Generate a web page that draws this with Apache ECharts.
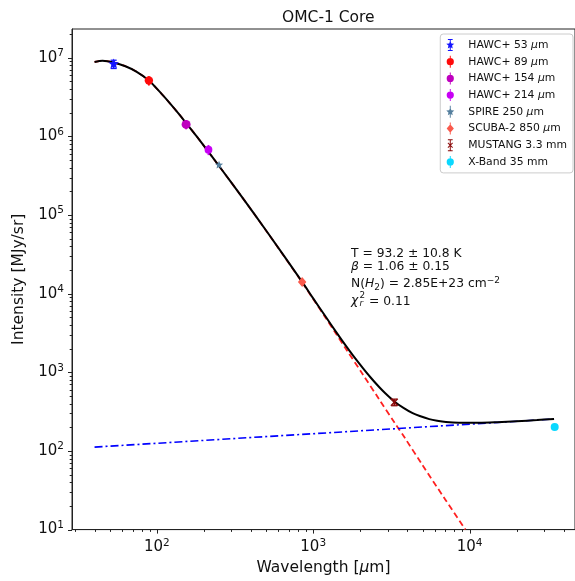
<!DOCTYPE html>
<html>
<head>
<meta charset="utf-8">
<script src="https://cdn.jsdelivr.net/npm/echarts@6/dist/echarts.min.js"></script>
<style>
  html, body { margin: 0; padding: 0; background: #ffffff; }
  #chart { width: 575px; height: 581px; }
</style>
</head>
<body>
<div id="chart"></div>
<script>
// ---- Observed bands: name, wavelength [um], intensity [MJy/sr], 1-sigma error ----
const bandNames = ['HAWC+ 53 μm', 'HAWC+ 89 μm', 'HAWC+ 154 μm', 'HAWC+ 214 μm',
                   'SPIRE 250 μm', 'SCUBA-2 850 μm', 'MUSTANG 3.3 mm', 'X-Band 35 mm'];
const bandWavelength = [53, 89, 154, 214, 250, 850, 3300, 35000];
const bandIntensity  = [8.3e6, 5.13e6, 1.42e6, 6.78e5, 4.33e5, 1.41e4, 416, 202];
const bandError      = [1.0e6, 0.7e6, 0.19e6, 1.0e5, 0.2e5, 0.1e4, 40, 8];

// ---- Fitted SED: total model (dust + free-free) ----
const fitWavelength = [40, 45, 53, 63, 74, 89, 105, 121, 137, 154, 180, 214, 250, 350, 500, 850,
                       1000, 1200, 1400, 1624, 1800, 2073, 2300, 2649, 2900, 3300, 3800, 4324,
                       4800, 5524, 6200, 7060, 8500, 11510, 15000, 20000, 27000, 34670];
const fitIntensity  = [8.85e6, 9.15e6, 8.7e6, 7.8e6, 6.67e6, 5.15e6, 3.65e6, 2.65e6, 1.98e6, 1.48e6,
                       1.0e6, 6.35e5, 4.2e5, 1.7e5, 6.35e4, 1.41e4,
                       8700, 5120, 3270, 2150, 1630, 1140, 885, 645, 538, 426, 350, 302,
                       278, 254, 242, 233, 228, 228, 232, 239, 247, 255];

// ---- Dust (modified blackbody) component ----
const dustWavelength = [40, 45, 53, 63, 74, 89, 105, 121, 137, 154, 180, 214, 250, 350, 500, 850,
                        1000, 1200, 1400, 1624, 2073, 2649, 3300, 3824, 5000, 7000, 9400];
const dustIntensity  = [8.85e6, 9.15e6, 8.7e6, 7.8e6, 6.67e6, 5.15e6, 3.65e6, 2.65e6, 1.98e6, 1.48e6,
                        1.0e6, 6.35e5, 4.2e5, 1.7e5, 6.33e4, 1.395e4,
                        8540, 4950, 3090, 1970, 944, 450, 232, 150, 66, 24, 10];

// ---- Free-free power law ----
const ffWavelength = [40, 34670];
const ffIntensity  = [112, 255];

// ---- Axis ranges and tick values ----
const X_MIN = 28.7, X_MAX = 47200, Y_MIN = 10, Y_MAX = 2.32e7;
const xMajorTicks = [100, 1000, 10000];
const yMajorTicks = [10, 100, 1e3, 1e4, 1e5, 1e6, 1e7];

// ---- Styles ----
const FONT = 'DejaVu Sans';
const INK = '#111111';
const bandColors  = ['#1414ff', '#ff0a0a', '#bf00bf', '#c800f5', '#557f9e', '#fa5a4c', '#8b0a0a', '#0ad8ff'];
const bandMarkers = ['star', 'circle', 'circle', 'circle', 'star', 'diamond', 'x', 'circle'];
const bandSizes   = [5.5, 4.2, 4.5, 3.9, 4.3, 5.0, 3.4, 4.0];
const bandCaps    = [true, false, false, false, false, false, true, false];

function minorTicks(lo, hi) {
  const out = [];
  for (let d = 1; d <= 1e8; d *= 10) {
    for (let m = 2; m <= 9; m++) {
      const v = m * d;
      if (v > lo && v < hi) out.push(v);
    }
  }
  return out;
}
const xMinorTicks = minorTicks(X_MIN, X_MAX);
const yMinorTicks = minorTicks(Y_MIN, Y_MAX);

function pairs(xs, ys) { return xs.map((x, i) => [x, ys[i]]); }

function powLabel(v) {
  const lg = Math.log10(v);
  const e = Math.round(lg);
  if (Math.abs(lg - e) > 1e-6) return '';
  return '{b|10}{s|' + e + '}';
}
const powRich = {
  b: { fontSize: 15, fontFamily: FONT, color: INK, verticalAlign: 'middle' },
  s: { fontSize: 10.5, fontFamily: FONT, color: INK, padding: [0, 0, 9, 0] }
};

// marker drawn at pixel centre c
function markerEl(kind, c, size, color) {
  if (kind === 'circle') {
    return { type: 'circle', shape: { cx: c[0], cy: c[1], r: size }, style: { fill: color } };
  }
  if (kind === 'diamond') {
    return { type: 'polygon', shape: { points: [[c[0], c[1] - size], [c[0] + size * 0.85, c[1]],
      [c[0], c[1] + size], [c[0] - size * 0.85, c[1]]] }, style: { fill: color } };
  }
  if (kind === 'star') {
    const pts = [];
    for (let k = 0; k < 10; k++) {
      const a = -Math.PI / 2 + k * Math.PI / 5;
      const r = k % 2 ? size * 0.45 : size;
      pts.push([c[0] + r * Math.cos(a), c[1] + r * Math.sin(a)]);
    }
    return { type: 'polygon', shape: { points: pts }, style: { fill: color } };
  }
  // 'x'
  return { type: 'group', children: [
    { type: 'line', shape: { x1: c[0] - size, y1: c[1] - size, x2: c[0] + size, y2: c[1] + size },
      style: { stroke: color, lineWidth: 1.4 } },
    { type: 'line', shape: { x1: c[0] - size, y1: c[1] + size, x2: c[0] + size, y2: c[1] - size },
      style: { stroke: color, lineWidth: 1.4 } }
  ] };
}

function renderBand(i) {
  return function (params, api) {
    const c  = api.coord([api.value(0), api.value(1)]);
    const lo = api.coord([api.value(0), api.value(2)]);
    const hi = api.coord([api.value(0), api.value(3)]);
    const color = bandColors[i];
    const children = [{ type: 'line', shape: { x1: c[0], y1: lo[1], x2: c[0], y2: hi[1] },
                        style: { stroke: color, lineWidth: 1.8 } }];
    if (bandCaps[i]) {
      children.push({ type: 'line', shape: { x1: c[0] - 3, y1: lo[1], x2: c[0] + 3, y2: lo[1] },
                      style: { stroke: color, lineWidth: 1.3 } });
      children.push({ type: 'line', shape: { x1: c[0] - 3, y1: hi[1], x2: c[0] + 3, y2: hi[1] },
                      style: { stroke: color, lineWidth: 1.3 } });
    }
    children.push(markerEl(bandMarkers[i], c, bandSizes[i], color));
    return { type: 'group', children: children };
  };
}

// legend icons: error bar + marker, in a 20x20 box
function starPath() {
  let d = '';
  for (let k = 0; k < 10; k++) {
    const a = -Math.PI / 2 + k * Math.PI / 5;
    const r = k % 2 ? 3.2 : 7;
    d += (k === 0 ? 'M' : 'L') + (10 + r * Math.cos(a)).toFixed(2) + ' ' + (10 + r * Math.sin(a)).toFixed(2);
  }
  return d + 'Z';
}
const ICON_BAR = 'M9.2 0H10.8V20H9.2Z ';
const ICON_CAPS = 'M6 0H14V1.6H6Z M6 18.4H14V20H6Z ';
const ICON_SHAPES = {
  circle: 'M16 10A6 6 0 1 1 4 10A6 6 0 1 1 16 10Z',
  diamond: 'M10 3L16 10L10 17L4 10Z',
  star: starPath(),
  x: 'M5.5 6.6L6.6 5.5L14.5 13.4L13.4 14.5Z M13.4 5.5L14.5 6.6L6.6 14.5L5.5 13.4Z'
};
function legendIcon(i) {
  return 'path://' + ICON_BAR + (bandCaps[i] ? ICON_CAPS : '') + ICON_SHAPES[bandMarkers[i]];
}

// axis ticks (outward, with log minor ticks)
function renderXTick(params, api) {
  const p = api.coord([api.value(0), Y_MIN]);
  const len = api.value(2) ? 4 : 2.3;
  const x = Math.round(p[0]) + 0.5;
  return { type: 'line', shape: { x1: x, y1: p[1], x2: x, y2: p[1] + len },
           style: { stroke: '#222', lineWidth: 1 } };
}
function renderYTick(params, api) {
  const p = api.coord([X_MIN, api.value(1)]);
  const len = api.value(2) ? 4 : 2.3;
  const y = Math.round(p[1]) + 0.5;
  return { type: 'line', shape: { x1: p[0], y1: y, x2: p[0] - len, y2: y },
           style: { stroke: '#222', lineWidth: 1 } };
}

const series = [
  { type: 'line', name: 'dust', data: pairs(dustWavelength, dustIntensity), symbol: 'none',
    smooth: 0.3, lineStyle: { color: '#ff2020', width: 1.8, type: [6, 3.5] }, silent: true, z: 2 },
  { type: 'line', name: 'free-free', data: pairs(ffWavelength, ffIntensity), symbol: 'none',
    lineStyle: { color: '#0000ff', width: 1.6, type: [8, 3, 2, 3] }, silent: true, z: 2 },
  { type: 'line', name: 'total', data: pairs(fitWavelength, fitIntensity), symbol: 'none',
    smooth: 0.3, lineStyle: { color: '#000000', width: 2 }, silent: true, z: 3 },
  { type: 'custom', name: 'xticks', silent: true, clip: false, z: 6,
    data: xMajorTicks.map(v => [v, Y_MIN, 1]).concat(xMinorTicks.map(v => [v, Y_MIN, 0])),
    renderItem: renderXTick },
  { type: 'custom', name: 'yticks', silent: true, clip: false, z: 6,
    data: yMajorTicks.map(v => [X_MIN, v, 1]).concat(yMinorTicks.map(v => [X_MIN, v, 0])),
    renderItem: renderYTick }
];
bandNames.forEach((name, i) => {
  series.push({
    type: 'custom', name: name, clip: false, z: 5,
    itemStyle: { color: bandColors[i] },
    encode: { x: 0, y: 1 },
    data: [[bandWavelength[i], bandIntensity[i], bandIntensity[i] - bandError[i], bandIntensity[i] + bandError[i]]],
    renderItem: renderBand(i)
  });
});

const chart = echarts.init(document.getElementById('chart'), null, { renderer: 'canvas' });
chart.setOption({
  animation: false,
  backgroundColor: '#ffffff',
  title: {
    text: 'OMC-1 Core', left: 277, top: 5,
    textStyle: { fontFamily: FONT, fontSize: 15.5, fontWeight: 'normal', color: INK }
  },
  grid: { left: 72, right: -1, top: 29, bottom: 50, show: true,
          borderColor: '#222', borderWidth: 1, backgroundColor: 'transparent' },
  xAxis: {
    type: 'log', logBase: 10, min: X_MIN, max: X_MAX,
    name: 'Wavelength [{i|μ}m]', nameLocation: 'middle', nameGap: 26,
    nameTextStyle: { fontFamily: FONT, fontSize: 15.5, color: INK,
      rich: { i: { fontFamily: FONT, fontSize: 15.5, fontStyle: 'italic', color: INK } } },
    axisLine: { show: true, onZero: false, lineStyle: { color: '#222', width: 1 } },
    axisTick: { show: false },
    splitLine: { show: false },
    axisLabel: { margin: 8, formatter: powLabel, rich: powRich, showMinLabel: false, showMaxLabel: false }
  },
  yAxis: {
    type: 'log', logBase: 10, min: Y_MIN, max: Y_MAX,
    name: 'Intensity [MJy/sr]', nameLocation: 'middle', nameGap: 37,
    nameTextStyle: { fontFamily: FONT, fontSize: 15.5, color: INK },
    axisLine: { show: true, onZero: false, lineStyle: { color: '#222', width: 1 } },
    axisTick: { show: false },
    splitLine: { show: false },
    axisLabel: { margin: 8, formatter: powLabel, rich: powRich }
  },
  legend: {
    orient: 'vertical', right: 2, top: 34,
    itemWidth: 12, itemHeight: 12, itemGap: 4.7,
    padding: [5, 6, 5, 6],
    backgroundColor: 'rgba(255,255,255,0.85)', borderColor: '#cccccc', borderWidth: 1, borderRadius: 3,
    selectedMode: false,
    itemStyle: { borderWidth: 0 },
    textStyle: { fontFamily: FONT, fontSize: 10.8, color: INK, padding: [0, 0, 0, 7],
      rich: { i: { fontFamily: FONT, fontSize: 10.8, fontStyle: 'italic', color: INK } } },
    formatter: n => n.replace('μ', '{i|μ}'),
    data: bandNames.map((n, i) => ({ name: n, icon: legendIcon(i) }))
  },
  graphic: [
    { type: 'text', x: 351, y: 254, z: 10,
      style: { text: 'T = 93.2 ± 10.8 K', fontFamily: FONT, fontSize: 12.3, fill: INK, verticalAlign: 'middle' } },
    { type: 'text', x: 351, y: 267, z: 10,
      style: { text: '{i|β} = 1.06 ± 0.15', fontFamily: FONT, fontSize: 12.3, fill: INK, verticalAlign: 'middle',
        rich: { i: { fontFamily: FONT, fontSize: 12.3, fontStyle: 'italic', fill: INK } } } },
    { type: 'text', x: 351, y: 284, z: 10,
      style: { text: 'N({i|H}{sub|2}) = 2.85E+23 cm{sup|−2}', fontFamily: FONT, fontSize: 12.3, fill: INK,
        verticalAlign: 'middle',
        rich: {
          i: { fontFamily: FONT, fontSize: 12.3, fontStyle: 'italic', fill: INK },
          sub: { fontFamily: FONT, fontSize: 9, fill: INK, padding: [7, 0, 0, 0] },
          sup: { fontFamily: FONT, fontSize: 9, fill: INK, padding: [0, 0, 7, 0] }
        } } },
    { type: 'text', x: 351, y: 301, z: 10,
      style: { text: 'χ', fontFamily: FONT, fontSize: 12.3, fontStyle: 'italic', fill: INK, verticalAlign: 'middle' } },
    { type: 'text', x: 359.5, y: 295.5, z: 10,
      style: { text: '2', fontFamily: FONT, fontSize: 8.8, fill: INK, verticalAlign: 'middle' } },
    { type: 'text', x: 359.5, y: 303.5, z: 10,
      style: { text: 'r', fontFamily: FONT, fontSize: 8.8, fontStyle: 'italic', fill: INK, verticalAlign: 'middle' } },
    { type: 'text', x: 369, y: 302, z: 10,
      style: { text: '= 0.11', fontFamily: FONT, fontSize: 12.3, fill: INK, verticalAlign: 'middle' } }
  ],
  series: series
});
</script>
</body>
</html>
